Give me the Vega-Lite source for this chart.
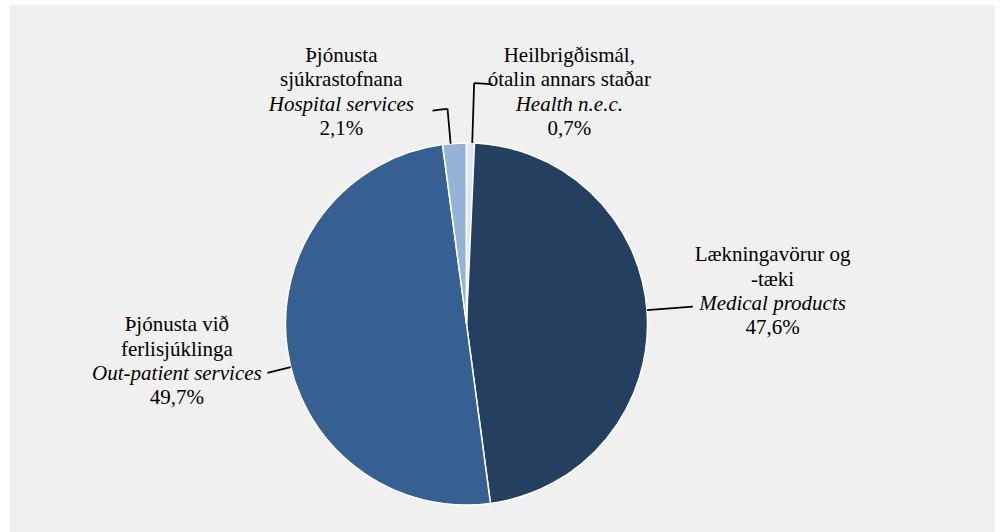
{
  "$schema": "https://vega.github.io/schema/vega-lite/v6.json",
  "background": "white",
  "padding": {"left": 10, "top": 5, "right": 5, "bottom": 0},
  "config": {"view": {"fill": "#f0f0f0", "stroke": null}, "text": {"font": "Liberation Serif", "fontSize": 21, "color": "black", "align": "center", "baseline": "alphabetic", "lineBreak": "\n", "lineHeight": 24.3}},
  "spacing": 0,
  "bounds": "flush",
  "vconcat": [
    {"width": 985, "height": 111, "view": {"fill": "#f0f0f0", "stroke": null}, "data": {"values": []}, "mark": "point"},
    {
      "spacing": 0,
      "bounds": "flush",
      "hconcat": [
        {
          "width": 913,
          "height": 416,
          "view": {"fill": "#f0f0f0", "stroke": null},
          "data": {"values": [
            {"english": "Medical products", "label": "Lækningavörur og\n-tæki", "pct": "47,6%", "value": 47.6},
            {"english": "Out-patient services", "label": "Þjónusta við\nferlisjúklinga", "pct": "49,7%", "value": 49.7},
            {"english": "Hospital services", "label": "Þjónusta\nsjúkrastofnana", "pct": "2,1%", "value": 2.1},
            {"english": "Health n.e.c.", "label": "Heilbrigðismál,\nótalin annars staðar", "pct": "0,7%", "value": 0.7}
          ]},
          "transform": [{"stack": "value", "groupby": [], "as": ["v0", "v1"]}],
          "layer": [
            {
              "mark": {"type": "arc", "radius": 181, "stroke": "white", "strokeWidth": 1.5},
              "encoding": {
                "theta": {"field": "v0", "type": "quantitative", "stack": null, "scale": {"zero": true, "nice": false}},
                "theta2": {"field": "v1"},
                "color": {"field": "english", "type": "nominal", "legend": null,
                  "scale": {"domain": ["Medical products", "Out-patient services", "Hospital services", "Health n.e.c."],
                            "range": ["#253f60", "#366092", "#95b3d7", "#dce6f2"]}}
              }
            },
            {
              "transform": [{"filter": "datum.english === 'Medical products'"}],
              "layer": [
                {"mark": {"type": "arc", "filled": false, "color": "black", "strokeWidth": 1.75, "radius": 227, "radius2": 181, "thetaOffset": 1.494001, "theta2Offset": 1.494001},
                 "encoding": {"theta": {"field": "v0", "type": "quantitative", "stack": null}, "theta2": {"field": "v0"}}},
                {"mark": {"type": "text", "dy": -47.6, "radius": 306.4, "thetaOffset": 1.52186},
                 "encoding": {"theta": {"field": "v0", "type": "quantitative", "stack": null}, "text": {"field": "label"}}},
                {"mark": {"type": "text", "fontStyle": "italic", "dy": 1, "radius": 306.4, "thetaOffset": 1.52186},
                 "encoding": {"theta": {"field": "v0", "type": "quantitative", "stack": null}, "text": {"field": "english"}}},
                {"mark": {"type": "text", "dy": 25.3, "radius": 306.4, "thetaOffset": 1.52186},
                 "encoding": {"theta": {"field": "v0", "type": "quantitative", "stack": null}, "text": {"field": "pct"}}}
              ]
            },
            {
              "transform": [{"filter": "datum.english === 'Out-patient services'"}],
              "layer": [
                {"mark": {"type": "arc", "filled": false, "color": "black", "strokeWidth": 1.75, "radius": 205, "radius2": 181, "thetaOffset": 1.462752, "theta2Offset": 1.462752},
                 "encoding": {"theta": {"field": "v0", "type": "quantitative", "stack": null}, "theta2": {"field": "v0"}}},
                {"mark": {"type": "text", "dy": -41.6, "radius": 293.7, "thetaOffset": 1.536202},
                 "encoding": {"theta": {"field": "v0", "type": "quantitative", "stack": null}, "text": {"field": "label"}}},
                {"mark": {"type": "text", "fontStyle": "italic", "dy": 7, "radius": 293.7, "thetaOffset": 1.536202},
                 "encoding": {"theta": {"field": "v0", "type": "quantitative", "stack": null}, "text": {"field": "english"}}},
                {"mark": {"type": "text", "dy": 31.3, "radius": 293.7, "thetaOffset": 1.536202},
                 "encoding": {"theta": {"field": "v0", "type": "quantitative", "stack": null}, "text": {"field": "pct"}}}
              ]
            },
            {
              "transform": [{"filter": "datum.english === 'Hospital services'"}],
              "layer": [
                {"mark": {"type": "arc", "filled": false, "color": "black", "strokeWidth": 1.75, "radius": 216, "radius2": 181, "thetaOffset": 0.044853, "theta2Offset": 0.044853},
                 "encoding": {"theta": {"field": "v0", "type": "quantitative", "stack": null}, "theta2": {"field": "v0"}}},
                {"mark": {"type": "arc", "filled": false, "color": "black", "strokeWidth": 1.75, "radius": 216, "radius2": 216, "thetaOffset": -0.024961, "theta2Offset": 0.044853},
                 "encoding": {"theta": {"field": "v0", "type": "quantitative", "stack": null}, "theta2": {"field": "v0"}}},
                {"mark": {"type": "text", "dx": -9, "dy": -42.6, "radius": 248.1, "thetaOffset": -0.354523},
                 "encoding": {"theta": {"field": "v0", "type": "quantitative", "stack": null}, "text": {"field": "label"}}},
                {"mark": {"type": "text", "fontStyle": "italic", "dx": -9, "dy": 6, "radius": 248.1, "thetaOffset": -0.354523},
                 "encoding": {"theta": {"field": "v0", "type": "quantitative", "stack": null}, "text": {"field": "english"}}},
                {"mark": {"type": "text", "dx": -9, "dy": 30.3, "radius": 248.1, "thetaOffset": -0.354523},
                 "encoding": {"theta": {"field": "v0", "type": "quantitative", "stack": null}, "text": {"field": "pct"}}}
              ]
            },
            {
              "transform": [{"filter": "datum.english === 'Health n.e.c.'"}],
              "layer": [
                {"mark": {"type": "arc", "filled": false, "color": "black", "strokeWidth": 1.75, "radius": 241, "radius2": 181, "thetaOffset": 0.031721, "theta2Offset": 0.031721},
                 "encoding": {"theta": {"field": "v0", "type": "quantitative", "stack": null}, "theta2": {"field": "v0"}}},
                {"mark": {"type": "arc", "filled": false, "color": "black", "strokeWidth": 1.75, "radius": 241, "radius2": 241, "thetaOffset": 0.031721, "theta2Offset": 0.108515},
                 "encoding": {"theta": {"field": "v0", "type": "quantitative", "stack": null}, "theta2": {"field": "v0"}}},
                {"mark": {"type": "text", "dx": -9, "dy": -52.6, "radius": 237.3, "thetaOffset": 0.490568},
                 "encoding": {"theta": {"field": "v0", "type": "quantitative", "stack": null}, "text": {"field": "label"}}},
                {"mark": {"type": "text", "fontStyle": "italic", "dx": -9, "dy": -4, "radius": 237.3, "thetaOffset": 0.490568},
                 "encoding": {"theta": {"field": "v0", "type": "quantitative", "stack": null}, "text": {"field": "english"}}},
                {"mark": {"type": "text", "dx": -9, "dy": 20.3, "radius": 237.3, "thetaOffset": 0.490568},
                 "encoding": {"theta": {"field": "v0", "type": "quantitative", "stack": null}, "text": {"field": "pct"}}}
              ]
            }
          ]
        },
        {"width": 72, "height": 416, "view": {"fill": "#f0f0f0", "stroke": null}, "data": {"values": []}, "mark": "point"}
      ]
    }
  ]
}
